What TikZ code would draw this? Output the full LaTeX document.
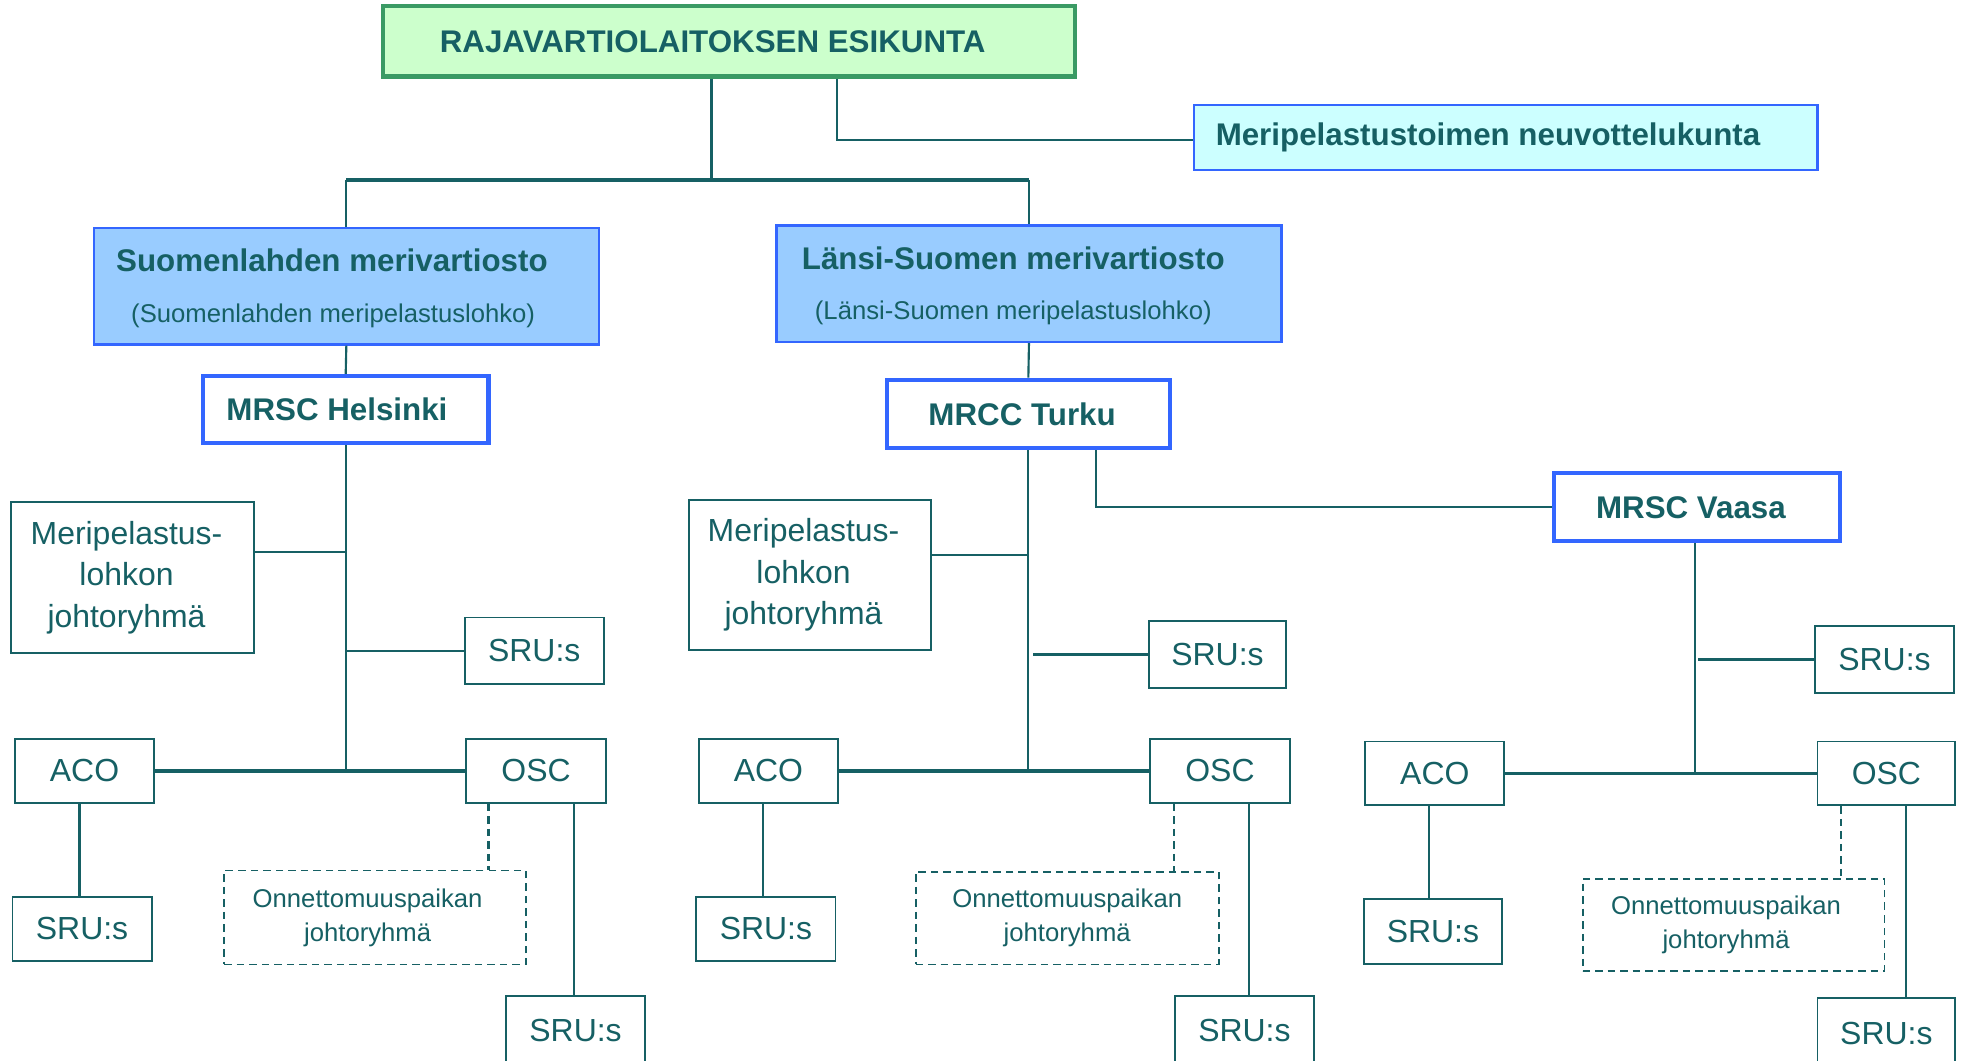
\documentclass[tikz,border=0pt]{standalone}
\usepackage{fontspec}
\setmainfont{Liberation Sans}
\definecolor{tealink}{HTML}{166064}
\definecolor{greenfill}{HTML}{CCFFCC}
\definecolor{greenline}{HTML}{3A9A64}
\definecolor{cyanfill}{HTML}{CCFFFF}
\definecolor{bluefill}{HTML}{99CCFF}
\definecolor{blueline}{HTML}{3366FF}
\tikzset{
  unitbox/.style={draw=tealink, line width=1.5pt, fill=white, inner sep=0pt, text=tealink, align=center,
    font=\fontsize{25.5}{33}\selectfont},
  onnbox/.style={unitbox, dashed, dash pattern=on 6pt off 4pt, font=\fontsize{20.5}{27}\selectfont},
  centrebox/.style={draw=blueline, line width=3.2pt, fill=white, inner sep=0pt, text=tealink,
    font=\bfseries\fontsize{25}{30}\selectfont},
  districtbox/.style={draw=blueline, line width=1.8pt, fill=bluefill, inner sep=0pt},
  headtext/.style={text=tealink, inner sep=0pt, font=\bfseries\fontsize{25}{30}\selectfont},
  subtext/.style={text=tealink, inner sep=0pt, font=\fontsize{20.5}{24}\selectfont},
  link/.style={draw=tealink, line width=1.7pt},
  buslink/.style={draw=tealink, line width=3pt},
  dashlink/.style={draw=tealink, line width=1.7pt, dash pattern=on 6pt off 4pt}
}
\begin{document}
\begin{tikzpicture}[x=1pt,y=-1pt]
\clip (0,0) rectangle (1568,847);
\fill[white] (0,0) rectangle (1568,847);

% headquarters and advisory board
\node[draw=greenline, line width=3.5pt, fill=greenfill, inner sep=0pt, minimum width=552pt, minimum height=56pt,
  text=tealink, font=\bfseries\fontsize{25}{30}\selectfont] (esikunta) at (582,33) {\hspace*{-26pt}\raisebox{-1pt}{RAJAVARTIOLAITOKSEN ESIKUNTA}};
\node[draw=blueline, line width=1.8pt, fill=cyanfill, inner sep=0pt, minimum width=498pt, minimum height=52pt,
  text=tealink, font=\bfseries\fontsize{25}{30}\selectfont] (neuvottelu) at (1202,110) {\hspace*{-28pt}Meripelastustoimen neuvottelukunta};

% coast guard districts
\node[districtbox, minimum width=403pt, minimum height=93pt] (suomenlahti) at (276.5,228.5) {};
\node[headtext] (suomenlahtiname) at (265,208) {Suomenlahden merivartiosto};
\node[subtext] (suomenlahtisub) at (266,252) {(Suomenlahden meripelastuslohko)};
\node[districtbox, minimum width=403pt, minimum height=93pt] (lansi) at (821.5,226.5) {};
\node[headtext] (lansiname) at (809,206) {Länsi-Suomen merivartiosto};
\node[subtext] (lansisub) at (809,250) {(Länsi-Suomen meripelastuslohko)};

% rescue centres
\node[centrebox, minimum width=228pt, minimum height=54pt] (helsinki) at (276,327) {\hspace*{-14pt}MRSC Helsinki};
\node[centrebox, minimum width=226pt, minimum height=55pt] (turku) at (821,330.5) {\hspace*{-10pt}MRCC Turku};
\node[centrebox, minimum width=228pt, minimum height=54pt] (vaasa) at (1355,405) {\hspace*{-10pt}MRSC Vaasa};

% Helsinki
\node[unitbox, minimum width=194pt, minimum height=120pt] (hjohto) at (106,461) {\raisebox{-2pt}{\hspace*{-10pt}Meripelastus-}\\\raisebox{-2pt}{\hspace*{-10pt}lohkon}\\\raisebox{-2pt}{\hspace*{-10pt}johtoryhmä}};
\node[unitbox, minimum width=111pt, minimum height=53pt] (hsrua) at (426.5,519.5) {SRU:s};
\node[unitbox, minimum width=111pt, minimum height=51pt] (haco) at (67.5,615.5) {ACO};
\node[unitbox, minimum width=112pt, minimum height=51pt] (hosc) at (428,615.5) {OSC};
\node[unitbox, minimum width=111pt, minimum height=51pt] (hsrub) at (65.5,741.5) {SRU:s};
\node[onnbox, minimum width=241pt, minimum height=75pt] (honn) at (299.5,732.5) {\hspace*{-12pt}Onnettomuuspaikan\\\hspace*{-12pt}johtoryhmä};
\node[unitbox, minimum width=111pt, minimum height=56pt] (hsruc) at (459.5,823) {SRU:s};

% Turku
\node[unitbox, minimum width=193pt, minimum height=120pt] (tjohto) at (646.5,459) {\raisebox{-2pt}{\hspace*{-10pt}Meripelastus-}\\\raisebox{-2pt}{\hspace*{-10pt}lohkon}\\\raisebox{-2pt}{\hspace*{-10pt}johtoryhmä}};
\node[unitbox, minimum width=110pt, minimum height=53pt] (tsrua) at (972,522.5) {SRU:s};
\node[unitbox, minimum width=111pt, minimum height=51pt] (taco) at (613.5,615.5) {ACO};
\node[unitbox, minimum width=112pt, minimum height=51pt] (tosc) at (974,615.5) {OSC};
\node[unitbox, minimum width=111pt, minimum height=51pt] (tsrub) at (611.5,741.5) {SRU:s};
\node[onnbox, minimum width=242pt, minimum height=74pt] (tonn) at (852,733) {Onnettomuuspaikan\\johtoryhmä};
\node[unitbox, minimum width=111pt, minimum height=56pt] (tsruc) at (993.5,823) {SRU:s};

% Vaasa
\node[unitbox, minimum width=111pt, minimum height=53pt] (vsrua) at (1504.5,526.5) {SRU:s};
\node[unitbox, minimum width=111pt, minimum height=51pt] (vaco) at (1145.5,617.5) {ACO};
\node[unitbox, minimum width=110pt, minimum height=51pt] (vosc) at (1506,617.5) {OSC};
\node[unitbox, minimum width=110pt, minimum height=52pt] (vsrub) at (1144,743.5) {SRU:s};
\node[onnbox, minimum width=241pt, minimum height=74pt] (vonn) at (1384,738.5) {\hspace*{-12pt}Onnettomuuspaikan\\\hspace*{-12pt}johtoryhmä};
\node[unitbox, minimum width=110pt, minimum height=56pt] (vsruc) at (1506,825) {SRU:s};

% connectors at the top
\coordinate (topbus) at (568,144);
\draw[link] ([xshift=86pt]esikunta.south) |- ([yshift=-2pt]neuvottelu.west);
\draw[link] ([xshift=-14pt]esikunta.south) -- (topbus);
\draw[buslink] (suomenlahti.north |- topbus) -- (lansi.north |- topbus);
\draw[link] (suomenlahti.north |- topbus) -- (suomenlahti.north);
\draw[link] (lansi.north |- topbus) -- (lansi.north);
\draw[link] (suomenlahti.south) -- (helsinki.north);
\draw[link] (lansi.south) -- (turku.north);
\draw[link] ([xshift=54pt]turku.south) |- (vaasa.west);

% Helsinki connectors
\draw[link] (helsinki.south) -- (helsinki.south |- haco.east);
\draw[link] ([yshift=20pt]hjohto.east) -- ([yshift=20pt]hjohto.east -| helsinki.south);
\draw[link] (hsrua.west) -- (hsrua.west -| helsinki.south);
\draw[buslink] (haco.east) -- (hosc.west);
\draw[link] ([xshift=-4pt]haco.south) -- ([xshift=-4pt]haco.south |- hsrub.north);
\draw[dashlink] ([xshift=-38pt]hosc.south) -- ([xshift=-38pt]hosc.south |- honn.north);
\draw[link] ([xshift=30pt]hosc.south) -- ([xshift=30pt]hosc.south |- hsruc.north);

% Turku connectors
\draw[link] (turku.south) -- (turku.south |- taco.east);
\draw[link] ([yshift=16pt]tjohto.east) -- ([yshift=16pt]tjohto.east -| turku.south);
\draw[link] (tsrua.west) -- ([xshift=4pt]tsrua.west -| turku.south);
\draw[buslink] (taco.east) -- (tosc.west);
\draw[link] ([xshift=-4.5pt]taco.south) -- ([xshift=-4.5pt]taco.south |- tsrub.north);
\draw[dashlink] ([xshift=-37pt]tosc.south) -- ([xshift=-37pt]tosc.south |- tonn.north);
\draw[link] ([xshift=23pt]tosc.south) -- ([xshift=23pt]tosc.south |- tsruc.north);

% Vaasa connectors
\draw[link] ([xshift=-2pt]vaasa.south) -- ([xshift=-2pt]vaasa.south |- vaco.east);
\draw[link] (vsrua.west) -- ([xshift=1pt]vsrua.west -| vaasa.south);
\draw[link] (vaco.east) -- (vosc.west);
\draw[link] ([xshift=-4.5pt]vaco.south) -- ([xshift=-4.5pt]vaco.south |- vsrub.north);
\draw[dashlink] ([xshift=-36pt]vosc.south) -- ([xshift=-36pt]vosc.south |- vonn.north);
\draw[link] ([xshift=16pt]vosc.south) -- ([xshift=16pt]vosc.south |- vsruc.north);
\end{tikzpicture}
\end{document}
